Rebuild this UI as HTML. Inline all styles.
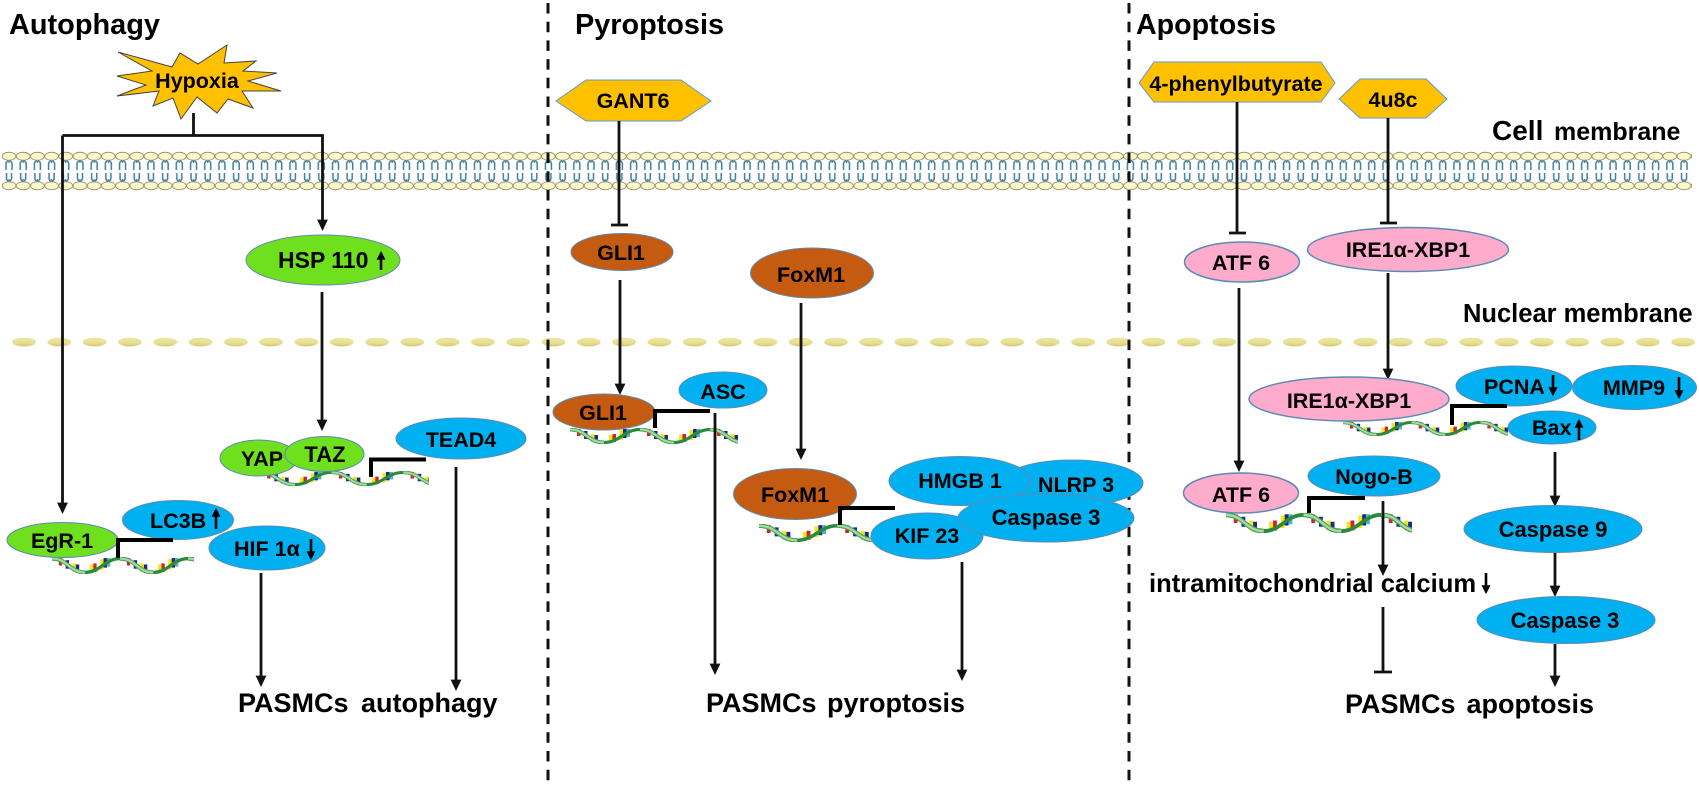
<!DOCTYPE html>
<html><head><meta charset="utf-8"><style>
html,body{margin:0;padding:0;background:#fff;width:1699px;height:787px;overflow:hidden}
svg{display:block}
text{font-family:"Liberation Sans",Arial,sans-serif;font-weight:bold;fill:#000;font-size:21.5px}
.c{text-anchor:middle}
.l{stroke:#111;stroke-width:2.8;fill:none}
.b{stroke:#000;stroke-width:4;fill:none}
.blue{fill:#00b0f0;stroke:#5b8bb5;stroke-width:1}
.green{fill:#6fe01e;stroke:#5b8bb5;stroke-width:1}
.pink{fill:#ffabcc;stroke:#5b8bb5;stroke-width:1.5}
.brown{fill:#c55a11;stroke:#5b8bb5;stroke-width:1}
.hex{fill:#ffc000;stroke:#5b9bd5;stroke-width:1}
</style></head><body>
<svg width="1699" height="787" viewBox="0 0 1699 787" xmlns="http://www.w3.org/2000/svg">
<defs>
<marker id="a" markerUnits="userSpaceOnUse" markerWidth="12" markerHeight="12" viewBox="0 0 10 10" refX="2" refY="5" orient="auto"><path d="M0 0.5L9.5 5L0 9.5z" fill="#111"/></marker>
<marker id="s" markerUnits="userSpaceOnUse" markerWidth="9" markerHeight="9" viewBox="0 0 10 10" refX="2" refY="5" orient="auto"><path d="M0 0L10 5L0 10z" fill="#000"/></marker>
<pattern id="mem" patternUnits="userSpaceOnUse" x="2" y="148" width="14.195" height="46">
<path d="M4 22V15Q7 10 10 15V22M4.500 25V31Q7 36 9.500 31V25" fill="none" stroke="#3f7fa3" stroke-width="1.500"/>
<path d="M7 11V15M7 31V35" stroke="#3f7fa3" stroke-width="1.200"/>
<ellipse cx="7" cy="8.300" rx="6.900" ry="4" fill="#fdf7cf" stroke="#9d9660" stroke-width="1"/>
<ellipse cx="7" cy="37.700" rx="6.900" ry="4" fill="#fdf7cf" stroke="#9d9660" stroke-width="1"/>
</pattern>
<linearGradient id="ng" x1="0" y1="0" x2="0" y2="1"><stop offset="0" stop-color="#efe7a8"/><stop offset="0.6" stop-color="#e8de92"/><stop offset="1" stop-color="#d4c668"/></linearGradient>
<pattern id="nuc" patternUnits="userSpaceOnUse" x="12" y="336" width="35.3" height="12">
<ellipse cx="12" cy="6" rx="12" ry="4.400" fill="url(#ng)"/>
</pattern>
<g id="u">
<rect x="7" y="1" width="3.500" height="7" fill="#d8202c"/><rect x="10.500" y="2" width="3.500" height="8" fill="#fff"/><rect x="14" y="3" width="3.500" height="8" fill="#1b2a8a"/><rect x="17.500" y="4" width="3.500" height="9" fill="#fff"/><rect x="21" y="6" width="3.500" height="8" fill="#f5e616"/><rect x="24.500" y="7" width="3.500" height="8" fill="#1b2a8a"/>
<rect x="39" y="7" width="3.500" height="8" fill="#f5e616"/><rect x="42.500" y="6" width="3.500" height="8" fill="#d8202c"/><rect x="46" y="4" width="3.500" height="9" fill="#fff"/><rect x="49.500" y="2" width="3.500" height="10" fill="#f5e616"/><rect x="53" y="1" width="3.500" height="9" fill="#1b2a8a"/><rect x="56.500" y="1" width="3.500" height="8" fill="#4fb7c4"/><rect x="60" y="1" width="3.500" height="7" fill="#fff"/>
<path d="M34 14.500C50 14.500 54 1.500 70 1.500" fill="none" stroke="#2c8a3c" stroke-width="3.200"/>
<path d="M0 1.500C16 1.500 18 14.500 34 14.500" fill="none" stroke="#4f9f5a" stroke-width="4"/>
<path d="M0 1.500C16 1.500 18 14.500 34 14.500" fill="none" stroke="#a4dca0" stroke-width="2"/>
</g>
<g id="dna"><use href="#u"/><use href="#u" x="70"/><use href="#u" x="140"/></g>
</defs>

<rect x="0" y="0" width="1699" height="787" fill="#fff"/>

<!-- membranes -->
<rect x="2" y="148" width="1690" height="46" fill="url(#mem)"/>
<rect x="12" y="336" width="1684" height="12" fill="url(#nuc)"/>

<!-- dashed dividers -->
<line x1="548" y1="3" x2="548" y2="787" stroke="#111" stroke-width="3" stroke-dasharray="10.5 8.2"/>
<line x1="1129" y1="3" x2="1129" y2="787" stroke="#111" stroke-width="3" stroke-dasharray="10.5 8.2"/>

<!-- titles -->
<text x="9" y="34" style="font-size:29px" textLength="151" lengthAdjust="spacingAndGlyphs">Autophagy</text>
<text x="575" y="34" style="font-size:29px" textLength="149" lengthAdjust="spacingAndGlyphs">Pyroptosis</text>
<text x="1136" y="34" style="font-size:29px" textLength="140" lengthAdjust="spacingAndGlyphs">Apoptosis</text>
<text x="1492" y="140" style="font-size:28px">Cell</text>
<text x="1554" y="140" style="font-size:25px">membrane</text>
<text x="1463" y="322" style="font-size:25.5px">Nuclear membrane</text>

<!-- Autophagy -->
<polygon points="118,52 172,67 180,53 198,64 227,45 224,63 256,61 243,71 277,73 248,81 281,91 242,91 253,108 228,99 217,113 197,97 181,119 173,98 153,106 159,91 117,96 146,85 117,76 152,71" fill="#ffc000" stroke="#444" stroke-width="1"/>
<text x="197" y="88" class="c">Hypoxia</text>
<path class="l" d="M193.500 113V135.500"/>
<path class="l" d="M62.500 135.500H322.500V222" marker-end="url(#a)"/>
<path class="l" d="M62.500 135.500V505" marker-end="url(#a)"/>
<line class="l" x1="322" y1="292" x2="322" y2="422" marker-end="url(#a)"/>

<ellipse class="green" cx="323" cy="260" rx="77" ry="25"/>
<text x="278" y="268" style="font-size:23px">HSP 110</text>
<line x1="381" y1="270" x2="381" y2="258" stroke="#000" stroke-width="2.6" marker-end="url(#s)"/>

<svg x="260" y="471" width="169" height="15" viewBox="0 0 165 16" preserveAspectRatio="none"><use href="#dna"/></svg>
<ellipse class="green" cx="259" cy="458" rx="39" ry="18"/>
<ellipse class="green" cx="324.500" cy="454" rx="39.500" ry="17.500"/>
<text x="262" y="466" class="c">YAP</text>
<text x="325" y="462" class="c" style="font-size:22px">TAZ</text>
<path class="b" d="M371 477V459.500H426"/>
<ellipse class="blue" cx="461" cy="438.500" rx="65" ry="20.500"/>
<text x="461" y="447" class="c">TEAD4</text>
<line class="l" x1="456" y1="467" x2="456" y2="682" marker-end="url(#a)"/>

<svg x="52" y="557" width="142" height="17" viewBox="0 0 146 16" preserveAspectRatio="none"><use href="#dna"/></svg>
<ellipse class="green" cx="62.500" cy="540" rx="55.500" ry="17.500"/>
<text x="62" y="548" class="c">EgR-1</text>
<ellipse class="blue" cx="178" cy="520" rx="55.500" ry="19.500"/>
<text x="150" y="528">LC3B</text>
<line x1="216" y1="529" x2="216" y2="515" stroke="#000" stroke-width="2.6" marker-end="url(#s)"/>
<ellipse class="blue" cx="267" cy="548" rx="58" ry="22"/>
<text x="234" y="556">HIF 1α</text>
<line x1="311" y1="539" x2="311" y2="553" stroke="#000" stroke-width="2.6" marker-end="url(#s)"/>
<path class="b" d="M118 558V540H173"/>
<line class="l" x1="261" y1="573" x2="261" y2="678" marker-end="url(#a)"/>
<text x="238" y="712" style="font-size:27px;word-spacing:5px">PASMCs autophagy</text>

<!-- Pyroptosis -->
<polygon class="hex" points="556,101 586,80 681,80 711,101 681,121 586,121"/>
<text x="633" y="108" class="c">GANT6</text>
<line class="l" x1="619" y1="121" x2="619" y2="225"/><line class="l" x1="611" y1="225" x2="628" y2="225"/>
<ellipse class="brown" cx="622" cy="252" rx="51" ry="18.500"/>
<text x="621" y="260" class="c">GLI1</text>
<line class="l" x1="620" y1="280" x2="620" y2="386" marker-end="url(#a)"/>
<ellipse class="brown" cx="812" cy="273" rx="61.500" ry="25"/>
<text x="811" y="282" class="c">FoxM1</text>
<line class="l" x1="801" y1="303" x2="801" y2="451" marker-end="url(#a)"/>

<svg x="570" y="428" width="168" height="16" viewBox="0 0 168 16" preserveAspectRatio="none"><use href="#dna"/></svg>
<ellipse class="brown" cx="604" cy="412" rx="51" ry="18"/>
<text x="603" y="420" class="c">GLI1</text>
<ellipse class="blue" cx="723" cy="390" rx="44" ry="18"/>
<text x="723" y="399" class="c">ASC</text>
<path class="b" d="M655 428V411H710"/>
<line class="l" x1="715" y1="413" x2="715" y2="666" marker-end="url(#a)"/>

<svg x="759" y="524" width="140" height="18" viewBox="0 0 125 16" preserveAspectRatio="none"><use href="#dna"/></svg>
<ellipse class="brown" cx="795" cy="494" rx="61.500" ry="25.500"/>
<text x="795" y="502" class="c">FoxM1</text>
<path class="b" d="M840 525V508H895"/>
<ellipse class="blue" cx="1072" cy="483" rx="71" ry="23"/>
<ellipse class="blue" cx="960" cy="481" rx="71" ry="24.500"/>
<ellipse class="blue" cx="927" cy="536" rx="56" ry="23"/>
<ellipse class="blue" cx="1046" cy="518" rx="88" ry="24"/>
<text x="960" y="488" class="c">HMGB 1</text>
<text x="1076" y="492" class="c">NLRP 3</text>
<text x="927" y="543" class="c">KIF 23</text>
<text x="1046" y="525" class="c" style="font-size:22px">Caspase 3</text>
<line class="l" x1="962" y1="562" x2="962" y2="672" marker-end="url(#a)"/>
<text x="706" y="712" style="font-size:27px;word-spacing:3px">PASMCs pyroptosis</text>

<!-- Apoptosis -->
<polygon class="hex" points="1139,83 1154,62 1321,62 1335,83 1321,102 1154,102"/>
<text x="1236" y="91" class="c">4-phenylbutyrate</text>
<line class="l" x1="1237" y1="102" x2="1237" y2="233"/><line class="l" x1="1229" y1="233" x2="1246" y2="233"/>
<polygon class="hex" points="1339,99 1360,79 1426,79 1447,99 1426,118 1360,118"/>
<text x="1393" y="107" class="c">4u8c</text>
<line class="l" x1="1388" y1="118" x2="1388" y2="223"/><line class="l" x1="1380" y1="223" x2="1397" y2="223"/>
<ellipse class="pink" cx="1242" cy="262" rx="57.500" ry="20"/>
<text x="1241" y="270" class="c">ATF 6</text>
<ellipse class="pink" cx="1408" cy="249.500" rx="100.500" ry="22"/>
<text x="1408" y="257" class="c">IRE1α-XBP1</text>
<line class="l" x1="1388" y1="273" x2="1388" y2="371" marker-end="url(#a)"/>
<line class="l" x1="1239" y1="288" x2="1239" y2="463" marker-end="url(#a)"/>

<svg x="1343" y="421" width="165" height="15" viewBox="0 0 168 16" preserveAspectRatio="none"><use href="#dna"/></svg>
<ellipse class="pink" cx="1349" cy="399" rx="100" ry="22"/>
<text x="1349" y="408" class="c">IRE1α-XBP1</text>
<ellipse class="blue" cx="1514" cy="386" rx="58" ry="20"/>
<text x="1484" y="394">PCNA</text>
<line x1="1553" y1="375" x2="1553" y2="389" stroke="#000" stroke-width="2.6" marker-end="url(#s)"/>
<ellipse class="blue" cx="1634.500" cy="387.500" rx="62" ry="22"/>
<text x="1603" y="395">MMP9</text>
<line x1="1679" y1="377" x2="1679" y2="392" stroke="#000" stroke-width="2.6" marker-end="url(#s)"/>
<ellipse class="blue" cx="1552" cy="427.500" rx="44" ry="16.500"/>
<text x="1532" y="435">Bax</text>
<line x1="1579" y1="440" x2="1579" y2="426" stroke="#000" stroke-width="2.6" marker-end="url(#s)"/>
<path class="b" d="M1452 425V406H1507"/>
<line class="l" x1="1555" y1="452" x2="1555" y2="498" marker-end="url(#a)"/>
<ellipse class="blue" cx="1553" cy="529" rx="89" ry="23.500"/>
<text x="1553" y="537" class="c" style="font-size:22px">Caspase 9</text>
<line class="l" x1="1555" y1="553" x2="1555" y2="588" marker-end="url(#a)"/>
<ellipse class="blue" cx="1566" cy="620" rx="89" ry="23.500"/>
<text x="1565" y="628" class="c" style="font-size:22px">Caspase 3</text>
<line class="l" x1="1555" y1="644" x2="1555" y2="678" marker-end="url(#a)"/>

<svg x="1226" y="513" width="186" height="20" viewBox="0 0 168 16" preserveAspectRatio="none"><use href="#dna"/></svg>
<ellipse class="pink" cx="1241" cy="493" rx="57.500" ry="20"/>
<text x="1241" y="502" class="c">ATF 6</text>
<ellipse class="blue" cx="1374" cy="476" rx="66" ry="20"/>
<text x="1374" y="484" class="c">Nogo-B</text>
<path class="b" d="M1309 513V498H1365"/>
<line class="l" x1="1383" y1="501" x2="1383" y2="567" marker-end="url(#a)"/>
<text x="1149" y="592" style="font-size:25.600px">intramitochondrial calcium</text>
<line x1="1486" y1="573" x2="1486" y2="587" stroke="#000" stroke-width="2.6" marker-end="url(#s)"/>
<line class="l" x1="1383" y1="607" x2="1383" y2="672"/><line class="l" x1="1374" y1="672" x2="1392" y2="672"/>
<text x="1345" y="713" style="font-size:27px;word-spacing:3.500px">PASMCs apoptosis</text>
</svg>
</body></html>
